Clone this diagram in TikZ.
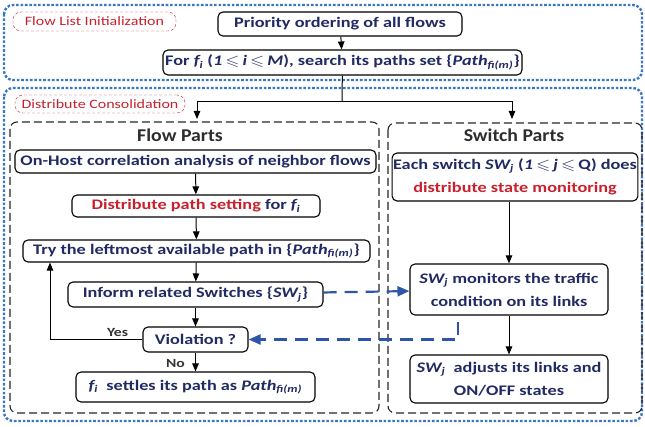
\documentclass[tikz,border=0pt]{standalone}
\usepackage{amssymb}
\usepackage{graphicx}
\usepackage{fontspec}
\setmainfont{Carlito}
\usetikzlibrary{arrows.meta}
\definecolor{navy}{RGB}{33,42,98}
\definecolor{dred}{RGB}{200,32,44}
\definecolor{dotblue}{RGB}{58,118,196}
\definecolor{arrblue}{RGB}{46,86,168}
\definecolor{ttl}{RGB}{45,45,45}
\newcommand{\Pth}{\textit{Path}\textsubscript{\textit{fi(m)}}}
\newcommand{\SWj}{\textit{SW\textsubscript{j}}}
\newcommand{\fii}{\textit{f\textsubscript{i}}}
\newcommand{\sleq}{\,$\leqslant$\,}
\newcommand{\tx}[2][1.25]{\scalebox{#1}[1]{#2}}
\newcommand{\fsz}[1]{\fontsize{#1}{23}\selectfont}

\begin{document}
\begin{tikzpicture}[x=1pt,y=-1pt,
  >={Triangle[length=8pt,width=6.5pt]},
  box/.style={draw=black,line width=1.1pt,rounded corners=5pt,fill=white,text=navy,
    font=\bfseries\fsz{14.6},inner sep=1pt,align=center},
  title/.style={text=ttl,font=\bfseries\fsz{18}},
  lbl/.style={draw=dred,dash pattern=on 3pt off 2pt,rounded corners=8pt,text=dred,
    font=\fsz{12.8},inner sep=1pt},
  part/.style={draw=black!85,line width=1.1pt,dash pattern=on 8pt off 4pt,rounded corners=7pt},
  zone/.style={draw=dotblue,line width=2.4pt,dash pattern=on 2.6pt off 1.8pt,rounded corners=9pt},
  line/.style={draw=black,line width=1pt},
  bline/.style={draw=arrblue,line width=2.2pt,dash pattern=on 13pt off 8pt,
    -{Triangle[length=12pt,width=10pt]}},
  ctxt/.style={text=black!80,font=\bfseries\fsz{12.5}}]
\useasboundingbox (0,0) rectangle (645,427);

\draw[zone] (4,5) rectangle (642,80);
\draw[zone] (4,88) rectangle (642,421);
\draw[part] (10,122) rectangle (379,413);
\draw[part] (388,123) rectangle (642,413);

\node[lbl,minimum width=163pt,minimum height=19pt] (li) at (94.5,21.5) {\tx{Flow List  Initialization}};
\node[lbl,minimum width=170pt,minimum height=18pt] (ld) at (100,104) {\tx{Distribute Consolidation}};

\node[box,minimum width=244pt,minimum height=24pt] (prio) at (340,24)
  {\tx{Priority ordering of all flows}};
\node[box,minimum width=359pt,minimum height=25pt] (fs) at (342.5,62.5)
  {\tx{For \fii\ ({\itshape 1}\sleq{\itshape i}\sleq{\itshape M}), search its paths set \{\Pth\}}};

\node[title] (tf) at (180,135) {\tx[1.1]{Flow Parts}};
\node[title] (ts) at (514,135) {\tx[1.1]{Switch Parts}};

\node[box,minimum width=361pt,minimum height=23pt] (onh) at (195.5,161.5)
  {\tx{On-Host correlation analysis of neighbor flows}};
\node[box,minimum width=248pt,minimum height=22pt] (dps) at (196,206)
  {\tx{\textcolor{dred}{Distribute path setting} for \fii}};
\node[box,minimum width=347pt,minimum height=22pt] (try) at (196.5,251)
  {\tx{Try the leftmost available path in \{\Pth\}}};
\node[box,minimum width=255pt,minimum height=25pt] (inf) at (195.5,294.5)
  {\tx{Inform related Switches \{\SWj\}}};
\node[box,minimum width=105pt,minimum height=25pt] (vio) at (195.5,339.5)
  {\tx{Violation ?}};
\node[box,minimum width=239pt,minimum height=30pt] (set) at (195.5,387)
  {\tx{\fii\ \ settles its path as \Pth}};

\node[box,minimum width=244pt,minimum height=48pt] (each) at (515,177)
  {\tx{Each switch \SWj\ ({\itshape 1}\sleq{\itshape j}\sleq Q) does}\\
   \tx{\textcolor{dred}{distribute state monitoring}}};
\node[box,minimum width=198pt,minimum height=51pt] (mon) at (509,289.5)
  {\tx{\SWj\ monitors the traffic}\\\tx{condition on its links}};
\node[box,minimum width=198pt,minimum height=48pt] (adj) at (509,379)
  {\tx{\SWj\ \ adjusts its links and}\\\tx{ON/OFF states}};

\coordinate (j) at (342,102);
\coordinate (jl) at (197,119);
\coordinate (jr) at (512,119);
\coordinate (ly) at (50,0);
\coordinate (rb) at (458,322);

\draw[line,->] (prio) -- (fs);
\draw[line] (fs) -- (j);
\draw[line,->] (j) -| (jl);
\draw[line,->] (j) -| (jr);
\draw[line,->] (onh) -- (dps);
\draw[line,->] (dps) -- (try);
\draw[line,->] (try) -- (inf);
\draw[line,->] (inf) -- (vio);
\draw[line,->] (vio) -- (set);
\draw[line,->] (vio.west) -| (try.south -| ly);
\draw[line,->] (each.south -| mon) -- (mon);
\draw[line,->] (mon) -- (adj);
\draw[bline] (inf) -- (mon);
\draw[bline] (rb) |- (vio);

\node[ctxt] (yes) at (117.5,332) {\tx{Yes}};
\node[ctxt] (no) at (175.5,363) {\tx{No}};
\end{tikzpicture}
\end{document}
